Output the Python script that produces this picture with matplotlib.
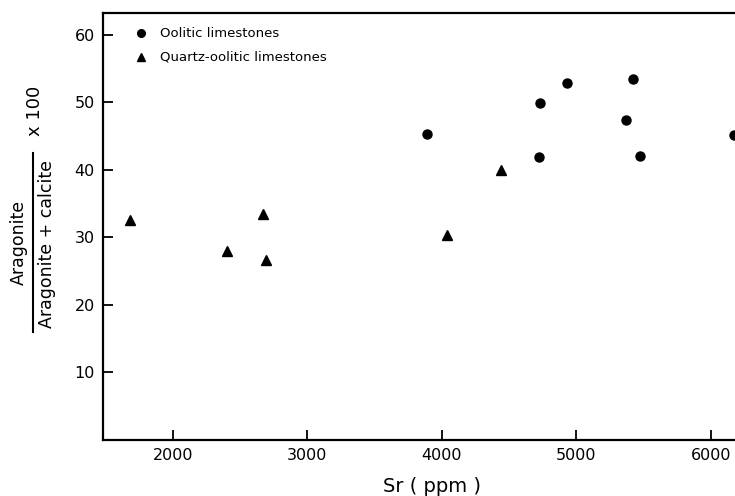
import matplotlib.pyplot as plt

plt.rcParams['font.family'] = ['DejaVu Sans']

# Oolitic limestones (circles)
sr_oolitic = [3890, 4730, 4720, 4930, 5420, 5370, 5470, 6170]
arag_oolitic = [45.3, 49.9, 41.9, 52.9, 53.4, 47.3, 42.1, 45.2]

# Quartz-oolitic limestones (triangles)
sr_quartz = [1680, 2400, 2670, 2690, 4040, 4440]
arag_quartz = [32.5, 27.9, 33.4, 26.7, 30.3, 40.0]

xticks = [2000, 3000, 4000, 5000, 6000]
yticks = [10, 20, 30, 40, 50, 60]

fig = plt.figure(figsize=(7.35, 4.96), dpi=100)
ax = fig.add_axes([103 / 735, 56 / 496, (735 - 103) / 735, 427 / 496])

ax.plot(sr_oolitic, arag_oolitic, 'o', color='black', markersize=6.5, clip_on=True)
ax.plot(sr_quartz, arag_quartz, '^', color='black', markersize=6.5, clip_on=True)

ax.set_xlim(1480, 6180)
ax.set_ylim(0, 63.2)
ax.set_xticks(xticks)
ax.set_yticks(yticks)
ax.tick_params(direction='in', length=7, width=1.3, labelsize=11.5, pad=6)
ax.spines['right'].set_visible(False)
for s in ['left', 'bottom', 'top']:
    ax.spines[s].set_linewidth(1.6)

# legend drawn by hand
ax.plot([0.06], [0.953], 'o', color='black', markersize=5.5, transform=ax.transAxes)
ax.text(0.09, 0.953, 'Oolitic limestones', transform=ax.transAxes,
        fontsize=9.5, va='center')
ax.plot([0.06], [0.897], '^', color='black', markersize=5.5, transform=ax.transAxes)
ax.text(0.09, 0.897, 'Quartz-oolitic limestones', transform=ax.transAxes,
        fontsize=9.5, va='center')

# y label as a fraction
fig.text(19 / 735, 1 - 242 / 496, 'Aragonite', rotation=90, fontsize=12.5,
         ha='center', va='center')
fig.text(47 / 735, 1 - 244 / 496, 'Aragonite + calcite', rotation=90, fontsize=12.5,
         ha='center', va='center')
fig.add_artist(plt.Line2D([33 / 735, 33 / 735], [1 - 153 / 496, 1 - 332 / 496],
                          color='black', linewidth=1.5))
fig.text(35 / 735, 1 - 111 / 496, 'x 100', rotation=90, fontsize=13,
         ha='center', va='center')

fig.text(432 / 735, 1 - 486 / 496, 'Sr ( ppm )', fontsize=14, ha='center', va='center')

fig.savefig('out.png', dpi=100)
